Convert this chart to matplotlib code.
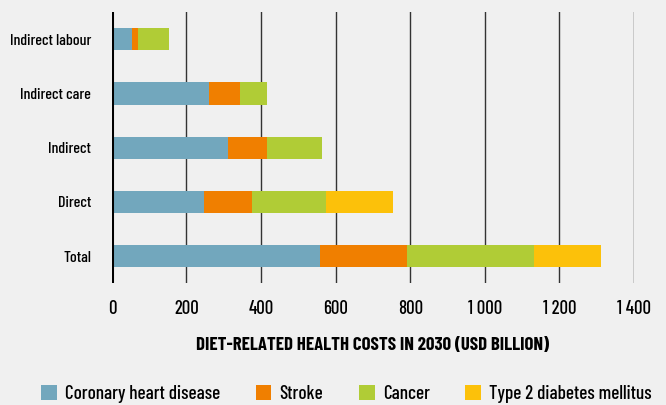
import matplotlib
matplotlib.use("Agg")
import matplotlib.pyplot as plt
import numpy as np
from matplotlib.ticker import FuncFormatter

categories = ["Total", "Direct", "Indirect", "Indirect care", "Indirect labour"]
series_names = ["Coronary heart disease", "Stroke", "Cancer", "Type 2 diabetes mellitus"]
coronary = [557, 246, 312, 260, 55]
stroke = [235, 130, 105, 84, 16]
cancer = [340, 198, 147, 73, 81]
diabetes = [180, 180, 0, 0, 0]
colors = ["#72a7bd", "#f07f00", "#b0cc36", "#fcc10a"]

BG = "#f0f0f0"
plt.rcParams["font.family"] = ["Barlow Condensed", "DejaVu Sans"]
plt.rcParams["font.weight"] = "medium"

fig = plt.figure(figsize=(6.66, 4.05), dpi=100, facecolor=BG)
ax = fig.add_axes([0.168, 0.301, 0.784, 0.669], facecolor=BG)

y = np.arange(len(categories))
left = np.zeros(len(categories))
for name, vals, col in zip(series_names, [coronary, stroke, cancer, diabetes], colors):
    ax.barh(y, vals, left=left, height=0.41, color=col, label=name, zorder=3)
    left += np.array(vals)

ax.set_xlim(0, 1400)
ax.set_ylim(-0.5, 4.5)
ax.set_xticks(np.arange(0, 1401, 200))
ax.xaxis.set_major_formatter(FuncFormatter(lambda v, _: f"{int(v):,}".replace(",", " ")))
ax.set_yticks(y)
ax.set_yticklabels(categories)
ax.grid(axis="x", color="#333333", linewidth=1, zorder=1)
ax.axvline(0, color="black", linewidth=2.2, zorder=4)
for side in ["top", "right", "bottom", "left"]:
    ax.spines[side].set_visible(False)
ax.tick_params(axis="x", length=0, pad=12, labelsize=13.5)
ax.tick_params(axis="y", length=0, pad=15, labelsize=11.5)

ax.set_xlabel("DIET-RELATED HEALTH COSTS IN 2030 (USD BILLION)", fontsize=13.5,
              fontweight="bold", labelpad=14)

fig.legend(loc="upper center", bbox_to_anchor=(0.52, 0.068), ncol=4, frameon=False,
           fontsize=13.8, handlelength=0.83, handleheight=0.83, handletextpad=0.42,
           columnspacing=1.85, borderaxespad=0)

fig.savefig("out.png", dpi=100, facecolor=BG)
